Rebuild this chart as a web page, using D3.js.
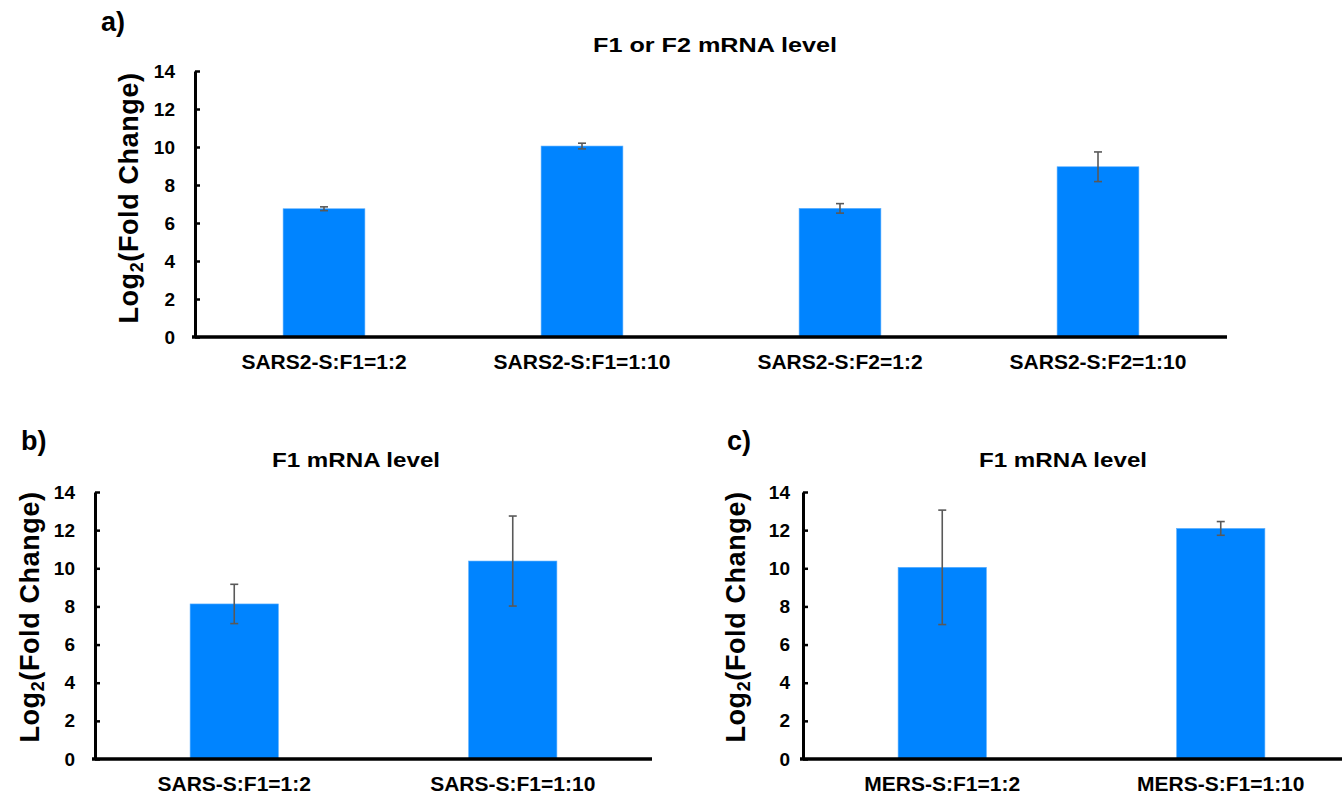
<!DOCTYPE html>
<html>
<head>
<meta charset="utf-8">
<script src="https://cdn.jsdelivr.net/npm/d3@7"></script>
<style>
  html, body { margin: 0; padding: 0; background: #fff; }
  svg { display: block; }
  text { font-family: Arial, "Liberation Sans", sans-serif; font-weight: bold; fill: #000; }
</style>
</head>
<body>
<svg id="chart" width="1342" height="796"></svg>
<script>
// ---------- data ----------
const panelACategories = ["SARS2-S:F1=1:2", "SARS2-S:F1=1:10", "SARS2-S:F2=1:2", "SARS2-S:F2=1:10"];
const panelAValues = [6.75, 10.05, 6.77, 8.96];
const panelAErrors = [0.10, 0.15, 0.25, 0.78];

const panelBCategories = ["SARS-S:F1=1:2", "SARS-S:F1=1:10"];
const panelBValues = [8.13, 10.38];
const panelBErrors = [1.03, 2.36];

const panelCCategories = ["MERS-S:F1=1:2", "MERS-S:F1=1:10"];
const panelCValues = [10.05, 12.09];
const panelCErrors = [3.00, 0.36];

const yTickValues = [0, 2, 4, 6, 8, 10, 12, 14];
const yDomain = [0, 14];

const panelTitles = ["F1 or F2 mRNA level", "F1 mRNA level", "F1 mRNA level"];
const panelLetters = ["a)", "b)", "c)"];
const yAxisTitle = "Log";

// ---------- layout ----------
const svg = d3.select("#chart");
const barColor = "#0084FF";
const errColor = "#595959";

const panels = [
  { cats: panelACategories, vals: panelAValues, errs: panelAErrors,
    x0: 195, x1: 1227, yTop: 71, yBot: 337, tickPad: 20,
    title: panelTitles[0], titleX: 715, titleY: 52, titleLen: 244,
    letter: panelLetters[0], letterX: 101, letterY: 31,
    yTitleX: 128, yTitleY: 198 },
  { cats: panelBCategories, vals: panelBValues, errs: panelBErrors,
    x0: 95, x1: 652, yTop: 492, yBot: 759, tickPad: 20,
    title: panelTitles[1], titleX: 356, titleY: 467, titleLen: 168,
    letter: panelLetters[1], letterX: 21, letterY: 450,
    yTitleX: 29, yTitleY: 617 },
  { cats: panelCCategories, vals: panelCValues, errs: panelCErrors,
    x0: 803, x1: 1360, yTop: 492, yBot: 759, tickPad: 13,
    title: panelTitles[2], titleX: 1063, titleY: 467, titleLen: 168,
    letter: panelLetters[2], letterX: 727, letterY: 450,
    yTitleX: 735, yTitleY: 617 }
];

panels.forEach(p => {
  const g = svg.append("g");
  const x = d3.scaleBand().domain(p.cats).range([p.x0, p.x1])
    .paddingInner(0.683).paddingOuter(0.3415);
  const y = d3.scaleLinear().domain(yDomain).range([p.yBot, p.yTop]);

  // bars
  g.selectAll("rect.bar").data(p.cats).join("rect")
    .attr("class", "bar")
    .attr("x", d => x(d))
    .attr("width", x.bandwidth())
    .attr("y", (d, i) => y(p.vals[i]))
    .attr("height", (d, i) => y(0) - y(p.vals[i]))
    .attr("fill", barColor)
    .attr("stroke", "#5aaeff").attr("stroke-width", 0.6);

  // error bars
  const eg = g.selectAll("g.err").data(p.cats).join("g").attr("class", "err");
  eg.append("line")
    .attr("x1", d => x(d) + x.bandwidth() / 2).attr("x2", d => x(d) + x.bandwidth() / 2)
    .attr("y1", (d, i) => y(p.vals[i] + p.errs[i]))
    .attr("y2", (d, i) => y(p.vals[i] - p.errs[i]))
    .attr("stroke", errColor).attr("stroke-width", 1.6);
  [1, -1].forEach(s => {
    eg.append("line")
      .attr("x1", d => x(d) + x.bandwidth() / 2 - 4).attr("x2", d => x(d) + x.bandwidth() / 2 + 4)
      .attr("y1", (d, i) => y(p.vals[i] + s * p.errs[i]))
      .attr("y2", (d, i) => y(p.vals[i] + s * p.errs[i]))
      .attr("stroke", errColor).attr("stroke-width", 1.6);
  });

  // y axis
  const ya = g.append("g").attr("transform", `translate(${p.x0},0)`)
    .call(d3.axisLeft(y).tickValues(yTickValues).tickSizeInner(-5).tickSizeOuter(0).tickPadding(p.tickPad));
  ya.select(".domain").attr("stroke", "#000").attr("stroke-width", 3);
  ya.selectAll(".tick line").attr("stroke", "#000").attr("stroke-width", 2.5);
  ya.selectAll(".tick text").style("font-size", "19px").attr("fill", "#000")
    .style("font-family", "Arial, 'Liberation Sans', sans-serif").style("font-weight", "bold");

  // x axis
  const xa = g.append("g").attr("transform", `translate(0,${p.yBot})`)
    .call(d3.axisBottom(x).tickSize(0).tickPadding(17));
  xa.select(".domain").attr("stroke", "#000").attr("stroke-width", 3.5)
    .attr("d", `M${p.x0 - 3},0H${p.x1}`);
  xa.selectAll(".tick text").style("font-size", "21px").attr("fill", "#000")
    .style("font-family", "Arial, 'Liberation Sans', sans-serif").style("font-weight", "bold");

  // title
  g.append("text").attr("x", p.titleX).attr("y", p.titleY)
    .attr("text-anchor", "middle").style("font-size", "21px")
    .attr("textLength", p.titleLen).attr("lengthAdjust", "spacingAndGlyphs")
    .text(p.title);

  // panel letter
  g.append("text").attr("x", p.letterX).attr("y", p.letterY)
    .style("font-size", "27px").text(p.letter);

  // y axis title
  const yt = g.append("text")
    .attr("transform", `translate(${p.yTitleX},${p.yTitleY}) rotate(-90)`)
    .attr("text-anchor", "middle").attr("dy", "0.36em")
    .style("font-size", "27px").style("letter-spacing", "0.6px");
  yt.append("tspan").text(yAxisTitle);
  yt.append("tspan").attr("dy", "0.28em").style("font-size", "18px").text("2");
  yt.append("tspan").attr("dy", "-0.18em").text("(Fold Change)");
});
</script>
</body>
</html>
